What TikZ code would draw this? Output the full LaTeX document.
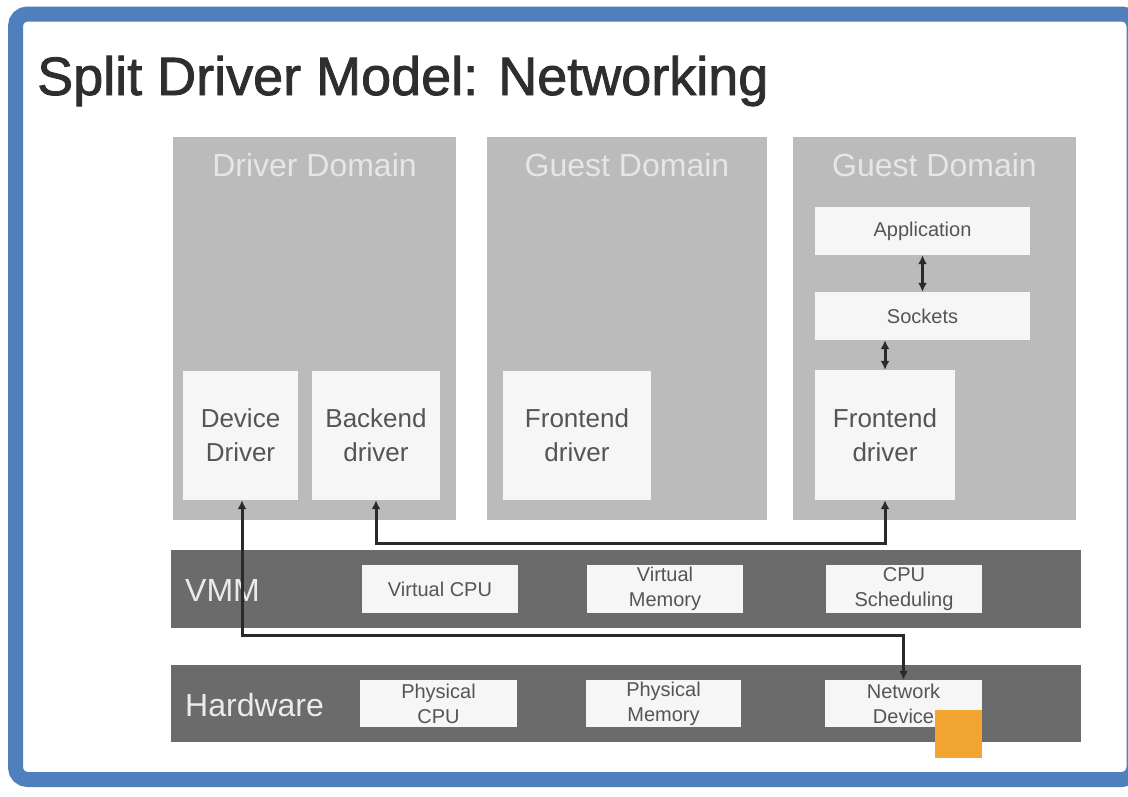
\documentclass[tikz,border=0pt]{standalone}
\usepackage{fontspec}
\setmainfont{Liberation Sans}
\newfontfamily\titlefont[FakeBold=1.5]{Liberation Sans}
\usetikzlibrary{arrows.meta}
\definecolor{frameblue}{HTML}{4F7FBC}
\definecolor{domgray}{HTML}{BBBBBB}
\definecolor{bargray}{HTML}{6B6B6B}
\definecolor{boxwhite}{HTML}{F6F6F6}
\definecolor{txtdark}{HTML}{555555}
\definecolor{titletxt}{HTML}{2E2E2E}
\definecolor{domtxt}{HTML}{E6E6E6}
\definecolor{linedark}{HTML}{2A2A2A}
\definecolor{orangesq}{HTML}{F3A534}
\tikzset{
  dombox/.style={fill=domgray, draw=none, inner sep=0pt},
  domtitle/.style={text=domtxt, font=\fontsize{32}{36}\selectfont, inner sep=0pt},
  innerbox/.style={fill=boxwhite, draw=none, inner sep=0pt, align=center, text=txtdark, font=\fontsize{26}{34}\selectfont},
  smallbox/.style={fill=boxwhite, draw=none, inner sep=0pt, align=center, text=txtdark, font=\fontsize{20}{25}\selectfont},
  barbox/.style={fill=bargray, draw=none, inner sep=0pt},
  barlabel/.style={text=white!92!black, font=\fontsize{32}{36}\selectfont, inner sep=0pt, anchor=west},
  conn/.style={draw=linedark, line width=3pt, {Latex[length=9pt,width=9pt]}-{Latex[length=9pt,width=9pt]}},
}
\begin{document}
\begin{tikzpicture}[x=1pt,y=-1pt]
\useasboundingbox (0,0) rectangle (1128,796);
\fill[white] (0,0) rectangle (1128,796);
% frame
\draw[frameblue, line width=15pt, rounded corners=12pt] (15.5,14) rectangle (1134,779.5);
% title
\node[anchor=base west, text=titletxt, font=\titlefont\fontsize{54}{60}\selectfont, inner sep=0pt] (title) at (37,95) {Split Driver Model: Networking};
% domains
\node[dombox, minimum width=283pt, minimum height=383pt] (dom1) at (314.5,328.5) {};
\node[dombox, minimum width=280pt, minimum height=383pt] (dom2) at (627,328.5) {};
\node[dombox, minimum width=283pt, minimum height=383pt] (dom3) at (934.5,328.5) {};
\node[domtitle] (t1) at (314.5,165) {Driver Domain};
\node[domtitle] (t2) at (627,165) {Guest Domain};
\node[domtitle] (t3) at (934.5,165) {Guest Domain};
% inner boxes
\node[innerbox, minimum width=115pt, minimum height=129pt] (dd) at (240.5,435.5) {Device\\Driver};
\node[innerbox, minimum width=128pt, minimum height=129pt] (bd) at (376,435.5) {Backend\\driver};
\node[innerbox, minimum width=148pt, minimum height=129pt] (fd1) at (577,435.5) {Frontend\\driver};
\node[smallbox, minimum width=215pt, minimum height=48pt] (app) at (922.5,231) {Application};
\node[smallbox, minimum width=215pt, minimum height=48pt] (sock) at (922.5,316) {Sockets};
\node[innerbox, minimum width=140pt, minimum height=130pt] (fd2) at (885,435) {Frontend\\driver};
% VMM bar
\node[barbox, minimum width=910pt, minimum height=78pt] (vmm) at (626,589) {};
\node[barlabel] (vmmlbl) at (185,590) {VMM};
\node[smallbox, minimum width=156pt, minimum height=48pt] (vcpu) at (440,589) {Virtual CPU};
\node[smallbox, minimum width=156pt, minimum height=48pt] (vmem) at (665,589) {Virtual\\Memory};
\node[smallbox, minimum width=156pt, minimum height=48pt] (sched) at (904,589) {CPU\\Scheduling};
% Hardware bar
\node[barbox, minimum width=910pt, minimum height=77pt] (hw) at (626,703.5) {};
\node[barlabel] (hwlbl) at (185,705) {Hardware};
\node[smallbox, minimum width=157pt, minimum height=47pt] (pcpu) at (438.5,703.5) {Physical\\CPU};
\node[smallbox, minimum width=155pt, minimum height=47pt] (pmem) at (663.5,703.5) {Physical\\Memory};
\node[smallbox, minimum width=157pt, minimum height=47pt] (nd) at (903.5,703.5) {Network\\Device};
% orange square
\fill[orangesq] (935,710) rectangle (982,758);
% connectors
\coordinate (c1) at (376,543);
\coordinate (c2) at (242,635);
\draw[conn] (bd.south) -- (c1) -| (fd2.south);
\draw[conn] (dd.south -| c2) -- (c2) -| (nd.north);
\draw[conn] (app.south) -- (sock.north);
\draw[conn] (fd2.north |- sock.south) -- (fd2.north);
\end{tikzpicture}
\end{document}
